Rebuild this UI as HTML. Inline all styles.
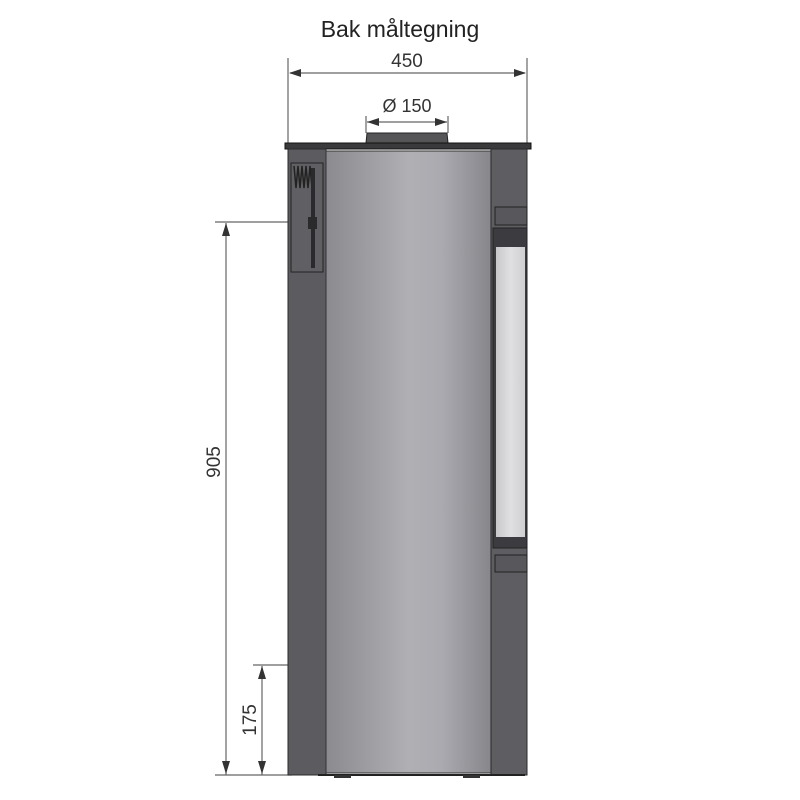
<!DOCTYPE html>
<html><head><meta charset="utf-8"><style>
html,body{margin:0;padding:0;background:#fff;width:800px;height:800px;overflow:hidden}
</style></head><body>
<svg width="800" height="800" viewBox="0 0 800 800" xmlns="http://www.w3.org/2000/svg">
<defs>
<linearGradient id="cyl" x1="0" x2="1" y1="0" y2="0">
<stop offset="0" stop-color="#8a8a8f"/>
<stop offset="0.5" stop-color="#b0b0b4"/>
<stop offset="0.7" stop-color="#aaaab0"/>
<stop offset="1" stop-color="#86868b"/>
</linearGradient>
<linearGradient id="glass" x1="0" x2="1"><stop offset="0" stop-color="#c8c8ca"/><stop offset="0.5" stop-color="#e0e0e2"/><stop offset="1" stop-color="#cfcfd1"/></linearGradient>
</defs>
<text x="400" y="37" font-family="Liberation Sans, sans-serif" font-size="23" text-anchor="middle" fill="#222">Bak måltegning</text>
<!-- 450 dimension -->
<g stroke="#666" stroke-width="1.2" fill="#333">
<line x1="288" y1="58" x2="288" y2="143"/>
<line x1="527" y1="58" x2="527" y2="143"/>
<line x1="290" y1="73" x2="525" y2="73"/>
<polygon points="289,73 301,69 301,77" stroke="none"/>
<polygon points="526,73 514,69 514,77" stroke="none"/>
<line x1="366" y1="116" x2="366" y2="133"/>
<line x1="448" y1="116" x2="448" y2="133"/>
<line x1="367" y1="122" x2="447" y2="122"/>
<polygon points="367,122 379,118 379,126" stroke="none"/>
<polygon points="447,122 435,118 435,126" stroke="none"/>
<!-- 905 -->
<line x1="215" y1="222" x2="318" y2="222"/>
<line x1="226" y1="223" x2="226" y2="775"/>
<polygon points="226,223 222,236 230,236" stroke="none"/>
<polygon points="226,774 222,761 230,761" stroke="none"/>
<!-- 175 -->
<line x1="253" y1="665" x2="288" y2="665"/>
<line x1="262" y1="666" x2="262" y2="775"/>
<polygon points="262,666 258,679 266,679" stroke="none"/>
<polygon points="262,774 258,761 266,761" stroke="none"/>
<line x1="215" y1="775" x2="292" y2="775"/>
</g>
<text x="407" y="67" font-family="Liberation Sans, sans-serif" font-size="19" text-anchor="middle" fill="#333">450</text>
<text x="407" y="112" font-family="Liberation Sans, sans-serif" font-size="18" text-anchor="middle" fill="#333">Ø 150</text>
<text transform="translate(220,462) rotate(-90)" font-family="Liberation Sans, sans-serif" font-size="19" text-anchor="middle" fill="#333">905</text>
<text transform="translate(256,720) rotate(-90)" font-family="Liberation Sans, sans-serif" font-size="19" text-anchor="middle" fill="#333">175</text>
<!-- flue -->
<polygon points="366,143 367,133 447,133 448,143" fill="#555558" stroke="#222"/>
<!-- top plate -->
<rect x="285" y="143" width="246" height="6" fill="#3a3a3d" stroke="#111"/>
<!-- left panel -->
<rect x="288" y="149" width="38" height="626" fill="#5c5c60" stroke="#2a2a2a"/>
<rect x="291" y="163" width="32" height="109" fill="#606064" stroke="#222"/>
<path d="M294 166 l2 22 l2 -22 l2 22 l2 -22 l2 22 l2 -22 l2 22 l2 -22 l2 22" stroke="#222" stroke-width="1.5" fill="none"/>
<rect x="311" y="168" width="4" height="100" fill="#2a2a2c"/>
<rect x="308" y="217" width="9" height="12" fill="#2a2a2c"/>
<!-- cylinder -->
<rect x="326" y="151" width="165" height="622" fill="url(#cyl)" stroke="#333"/>
<!-- right panel -->
<rect x="491" y="149" width="36" height="626" fill="#5e5e62" stroke="#2a2a2a"/>
<rect x="495" y="207" width="32" height="18" fill="#58585c" stroke="#222"/>
<rect x="493" y="228" width="34" height="320" fill="#3c3c40" stroke="#222"/>
<rect x="496" y="247" width="29" height="290" fill="url(#glass)"/>
<rect x="495" y="555" width="32" height="17" fill="#58585c" stroke="#222"/>
<!-- bottom -->
<line x1="318" y1="775" x2="525" y2="775" stroke="#222" stroke-width="2"/>
<rect x="334" y="775" width="17" height="3" fill="#333"/>
<rect x="463" y="775" width="17" height="3" fill="#333"/>
</svg>
</body></html>
